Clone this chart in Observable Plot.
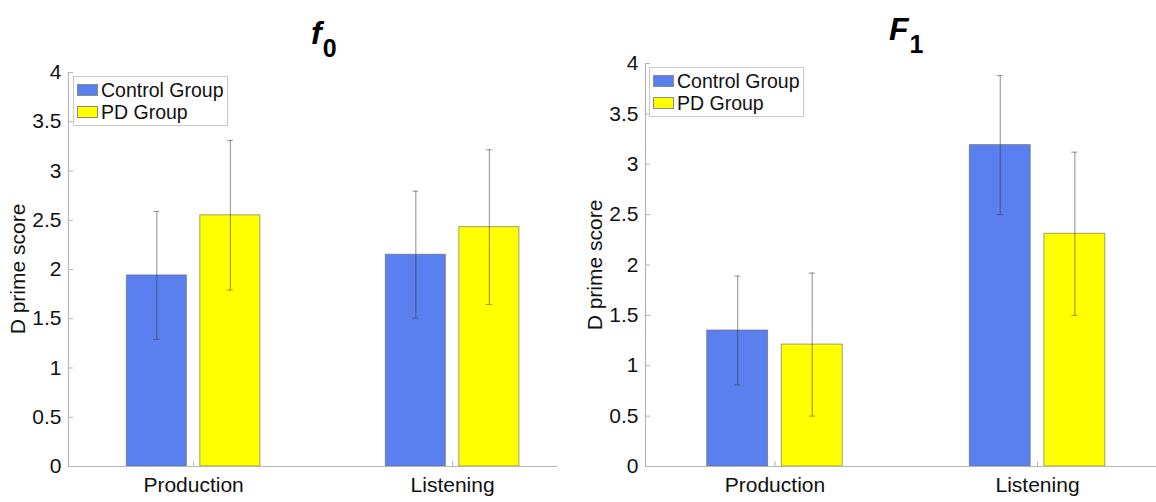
<!DOCTYPE html>
<html>
<head>
<meta charset="utf-8">
<script src="https://cdn.jsdelivr.net/npm/d3@7"></script>
<script src="https://cdn.jsdelivr.net/npm/@observablehq/plot@0.6"></script>
<style>
  html, body { margin: 0; padding: 0; background: #fff; }
  #root { position: relative; width: 1156px; height: 502px; overflow: hidden; font-family: "Liberation Sans", Arial, sans-serif; }
  .panel { position: absolute; top: 0; }
  .title { position: absolute; font-family: "Liberation Sans", Arial, sans-serif; font-weight: bold; color: #000; white-space: nowrap; line-height: 1; }
  .title i { font-size: 32px; }
  .title sub { font-size: 25px; position: relative; top: 13px; vertical-align: baseline; margin-left: 1px; font-style: normal; }
  .ylab { position: absolute; font-size: 21px; color: #111; white-space: nowrap; transform: translate(-50%, -50%) rotate(-90deg); }
  .legend { position: absolute; background: #fff; border: 1px solid #c8c8c8; font-size: 19.5px; color: #111; padding: 2px 4px 2px 3px; line-height: 22px; }
  .legend .row { display: flex; align-items: center; }
  .legend .sw { width: 21px; height: 12px; margin-right: 3px; box-sizing: border-box; border: 1px solid #8a8a8a; }
</style>
</head>
<body>
<div id="root"></div>
<script>
// ---- data ----
const categories = ["Production", "Listening"];
const groups = ["Control Group", "PD Group"];
const groupColors = ["#5a80f0", "#ffff00"];
const yTicks = [0, 0.5, 1, 1.5, 2, 2.5, 3, 3.5, 4];

const f0Control = [1.94, 2.15];
const f0ControlSD = [0.65, 0.645];
const f0PD = [2.55, 2.43];
const f0PDSD = [0.76, 0.785];

const F1Control = [1.35, 3.19];
const F1ControlSD = [0.54, 0.69];
const F1PD = [1.21, 2.31];
const F1PDSD = [0.71, 0.81];

// ---- layout ----
const root = document.getElementById("root");
const FONT = "'Liberation Sans', Arial, sans-serif";
const AXIS = "#b5b5b5";

function makeRows(control, controlSD, pd, pdSD) {
  const rows = [];
  categories.forEach((c, i) => {
    rows.push({cat: c, pos: i + 1, group: groups[0], mean: control[i], sd: controlSD[i], off: -0.142});
    rows.push({cat: c, pos: i + 1, group: groups[1], mean: pd[i], sd: pdSD[i], off: 0.142});
  });
  rows.forEach(d => d.center = d.pos + d.off);
  return rows;
}

function panel(opts) {
  const {rows, width, left, marginLeft, marginRight, marginTop, marginBottom, xDomain} = opts;
  const height = 502;
  const plotW = width - marginLeft - marginRight;
  const plotH = height - marginTop - marginBottom;
  const xPerPx = (xDomain[1] - xDomain[0]) / plotW;
  const yPerPx = 4 / plotH;
  const bw = 0.232;
  const cap = 3 * xPerPx;
  const tickX = 5 * xPerPx;
  const tickY = 5 * yPerPx;
  const x0 = xDomain[0];

  const chart = Plot.plot({
    width, height, marginLeft, marginRight, marginTop, marginBottom,
    style: {fontFamily: FONT, fontSize: "21px", color: "#111", background: "transparent"},
    x: {domain: xDomain, axis: null},
    y: {domain: [0, 4], axis: null},
    color: {domain: groups, range: groupColors},
    marks: [
      Plot.rect(rows, {x1: d => d.center - bw / 2, x2: d => d.center + bw / 2, y1: 0, y2: "mean",
        fill: "group", stroke: "#6a6a6a", strokeWidth: 0.9, strokeOpacity: 0.7}),
      // error bars
      Plot.ruleX(rows, {x: "center", y1: d => d.mean - d.sd, y2: d => d.mean + d.sd, stroke: "#333", strokeOpacity: 0.5, strokeWidth: 1.1}),
      Plot.ruleY(rows, {y: d => d.mean + d.sd, x1: d => d.center - cap, x2: d => d.center + cap, stroke: "#333", strokeOpacity: 0.5}),
      Plot.ruleY(rows, {y: d => d.mean - d.sd, x1: d => d.center - cap, x2: d => d.center + cap, stroke: "#333", strokeOpacity: 0.5}),
      // axis lines
      Plot.ruleX([x0], {y1: 0, y2: 4, stroke: AXIS, strokeWidth: 1.2}),
      Plot.ruleY([0], {x1: x0, x2: xDomain[1], stroke: AXIS, strokeWidth: 1.2}),
      // inward ticks
      Plot.ruleY(yTicks, {y: d => d, x1: x0, x2: x0 + tickX, stroke: AXIS}),
      Plot.ruleX([1, 2], {x: d => d, y1: 0, y2: tickY, stroke: AXIS}),
      // tick labels
      Plot.axisY(yTicks, {tickSize: 0, tickPadding: 7, tickFormat: d => String(d), fontSize: 21, label: null}),
      Plot.axisX([1, 2], {tickSize: 0, tickPadding: 11, tickFormat: d => categories[d - 1], fontSize: 21, label: null})
    ]
  });
  const wrap = document.createElement("div");
  wrap.className = "panel";
  wrap.style.left = left + "px";
  wrap.appendChild(chart);
  root.appendChild(wrap);
}

panel({rows: makeRows(f0Control, f0ControlSD, f0PD, f0PDSD), width: 580, left: 0,
  marginLeft: 68, marginRight: 23, marginTop: 72, marginBottom: 36, xDomain: [0.517, 2.405]});
panel({rows: makeRows(F1Control, F1ControlSD, F1PD, F1PDSD), width: 576, left: 580,
  marginLeft: 65, marginRight: 0, marginTop: 63, marginBottom: 36, xDomain: [0.507, 2.453]});

// titles
function addTitle(letter, sub, x, y) {
  const t = document.createElement("div");
  t.className = "title";
  t.innerHTML = `<i>${letter}</i><sub>${sub}</sub>`;
  t.style.left = x + "px";
  t.style.top = y + "px";
  root.appendChild(t);
}
addTitle("f", "0", 311, 17);
addTitle("F", "1", 889, 13);

// y labels
function addYLabel(text, cx, cy) {
  const d = document.createElement("div");
  d.className = "ylab";
  d.textContent = text;
  d.style.left = cx + "px";
  d.style.top = cy + "px";
  root.appendChild(d);
}
addYLabel("D prime score", 18, 269);
addYLabel("D prime score", 595, 265);

// legends
function addLegend(x, y) {
  const lg = document.createElement("div");
  lg.className = "legend";
  lg.style.left = x + "px";
  lg.style.top = y + "px";
  groups.forEach((g, i) => {
    const r = document.createElement("div");
    r.className = "row";
    const sw = document.createElement("span");
    sw.className = "sw";
    sw.style.background = groupColors[i];
    const tx = document.createElement("span");
    tx.textContent = g;
    r.appendChild(sw); r.appendChild(tx);
    lg.appendChild(r);
  });
  root.appendChild(lg);
}
addLegend(73, 76);
addLegend(649, 67);
</script>
</body>
</html>
